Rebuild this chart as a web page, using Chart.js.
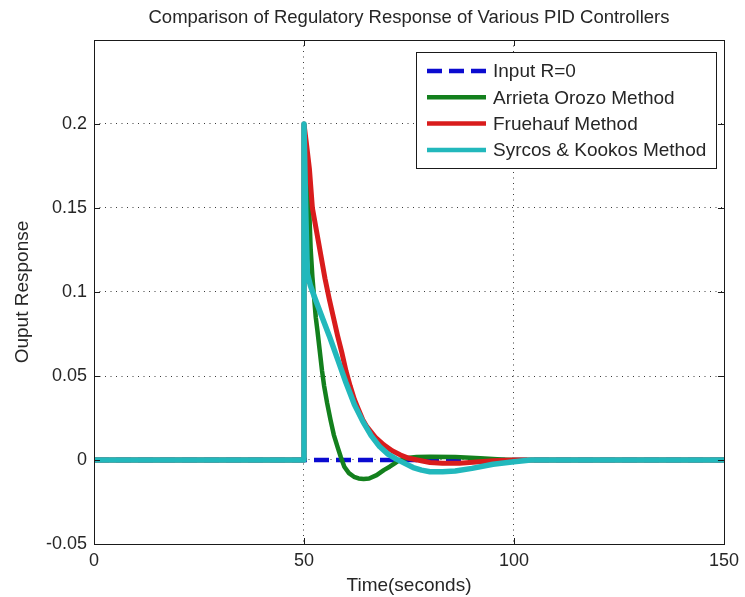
<!DOCTYPE html>
<html>
<head>
<meta charset="utf-8">
<title>Comparison of Regulatory Response of Various PID Controllers</title>
<script src="https://cdn.jsdelivr.net/npm/chart.js@4.4.1/dist/chart.umd.min.js"></script>
<style>
  html, body { margin: 0; padding: 0; background: #fff; }
  #wrap { width: 745px; height: 597px; }
</style>
</head>
<body>
<div id="wrap"><canvas id="pidChart" width="745" height="597"></canvas></div>
<script>
// Series data (time in seconds, output response)
const seriesLabels = ['Input R=0', 'Arrieta Orozo Method', 'Fruehauf Method', 'Syrcos & Kookos Method'];

const inputT = [0, 150];
const inputY = [0, 0];

const arrietaT = [0, 50, 50, 50.5, 51, 51.3, 51.6, 52, 52.8, 53.2, 53.7, 54.3, 54.8, 55.5, 56.3, 57.1, 58, 58.8, 59.6, 60.7, 61.9, 63, 64.2, 65.5, 67.3, 69, 70.4, 71.6, 72.8, 74.5, 76.8, 80, 86, 92, 97, 100, 150];
const arrietaY = [0, 0, 0.2, 0.175, 0.155, 0.145, 0.125, 0.109, 0.085, 0.077, 0.066, 0.053, 0.044, 0.034, 0.024, 0.015, 0.0077, 0.0015, -0.004, -0.0078, -0.010, -0.011, -0.0113, -0.011, -0.009, -0.006, -0.004, -0.002, 0.000, 0.0012, 0.0018, 0.002, 0.0018, 0.001, 0.0003, 0, 0];

const fruehaufT = [0, 50, 50, 50.5, 51.3, 52, 53, 54, 55, 56, 57, 58, 59, 60, 61, 62, 63, 64, 65, 67, 69, 71, 73, 75, 77, 80, 83, 87, 91, 95, 100, 150];
const fruehaufY = [0, 0, 0.2, 0.19, 0.173, 0.150, 0.136, 0.122, 0.108, 0.096, 0.085, 0.074, 0.064, 0.053, 0.044, 0.036, 0.030, 0.024, 0.0197, 0.0135, 0.009, 0.0055, 0.003, 0.001, 0, -0.0015, -0.002, -0.002, -0.0012, -0.0005, 0, 0];

const syrcosT = [0, 50, 50, 50.4, 50.8, 51.5, 52.5, 54, 56, 58, 60, 62, 64, 66, 68, 70, 72, 74, 76, 78, 80, 83, 86, 90, 95, 100, 104, 150];
const syrcosY = [0, 0, 0.2, 0.15, 0.111, 0.104, 0.097, 0.087, 0.074, 0.060, 0.046, 0.033, 0.023, 0.0145, 0.008, 0.0035, 0.0005, -0.002, -0.0045, -0.006, -0.007, -0.007, -0.0065, -0.005, -0.0025, -0.001, 0, 0];

// Axis ticks
const xTicks = [0, 50, 100, 150];
const yTicks = [-0.05, 0, 0.05, 0.1, 0.15, 0.2, 0.25];

const FONT = "'Liberation Sans', Arial, sans-serif";
const TEXT_COLOR = '#262626';

function toPoints(t, y) {
    return t.map((x, i) => ({ x: x, y: y[i] }));
}

/**
 * Draws the axes box and the inward tick marks (MATLAB look)
 */
const boxPlugin = {
    id: 'boxPlugin',
    afterDatasetsDraw(chart) {
        const { ctx, chartArea: a, scales } = chart;
        ctx.save();
        ctx.strokeStyle = '#1a1a1a';
        ctx.lineWidth = 1;
        ctx.setLineDash([]);
        ctx.beginPath();
        xTicks.forEach(v => {
            const px = Math.round(scales.x.getPixelForValue(v)) + 0.5;
            ctx.moveTo(px, a.bottom);
            ctx.lineTo(px, a.bottom - 6);
            ctx.moveTo(px, a.top);
            ctx.lineTo(px, a.top + 6);
        });
        yTicks.forEach(v => {
            const py = Math.round(scales.y.getPixelForValue(v)) + 0.5;
            ctx.moveTo(a.left, py);
            ctx.lineTo(a.left + 6, py);
            ctx.moveTo(a.right, py);
            ctx.lineTo(a.right - 6, py);
        });
        ctx.stroke();
        ctx.strokeRect(Math.round(a.left) + 0.5, Math.round(a.top) + 0.5,
            Math.round(a.right - a.left), Math.round(a.bottom - a.top));
        ctx.restore();
    }
};

/**
 * Legend box drawn inside the plot, top right
 */
const legendBoxPlugin = {
    id: 'legendBox',
    afterDraw(chart) {
        const { ctx, chartArea: a } = chart;
        const datasets = chart.data.datasets;
        ctx.save();
        ctx.font = '19px ' + FONT;
        let textW = 0;
        datasets.forEach(ds => { textW = Math.max(textW, ctx.measureText(ds.label).width); });

        const padL = 11, sampleW = 59, gap = 7, padR = 10;
        const rowH = 26.3;
        const boxW = Math.round(padL + sampleW + gap + textW + padR);
        const boxH = 116;
        const right = Math.round(a.right) - 8;
        const left = right - boxW;
        const top = Math.round(a.top) + 12;

        ctx.fillStyle = '#fff';
        ctx.fillRect(left, top, boxW, boxH);
        ctx.strokeStyle = '#1a1a1a';
        ctx.lineWidth = 1;
        ctx.strokeRect(left + 0.5, top + 0.5, boxW, boxH);

        datasets.forEach((ds, i) => {
            const y = top + 19 + i * rowH;
            ctx.beginPath();
            ctx.strokeStyle = ds.borderColor;
            ctx.lineWidth = 4.5;
            ctx.setLineDash(ds.borderDash || []);
            ctx.moveTo(left + padL, y);
            ctx.lineTo(left + padL + sampleW, y);
            ctx.stroke();
            ctx.setLineDash([]);
            ctx.fillStyle = TEXT_COLOR;
            ctx.textBaseline = 'middle';
            ctx.textAlign = 'left';
            ctx.fillText(ds.label, left + padL + sampleW + gap, y + 1);
        });
        ctx.restore();
    }
};

const edgeGrid = (ctx) => {
    const n = ctx.chart.scales[ctx.scale.id].ticks.length;
    return (ctx.index === 0 || ctx.index === n - 1) ? 'rgba(0,0,0,0)' : '#3a3a3a';
};

const chart = new Chart(document.getElementById('pidChart').getContext('2d'), {
    type: 'line',
    data: {
        datasets: [
            {
                label: seriesLabels[0],
                data: toPoints(inputT, inputY),
                borderColor: '#0b0bd0',
                borderWidth: 4.5,
                borderDash: [15, 7],
                order: 3
            },
            {
                label: seriesLabels[1],
                data: toPoints(arrietaT, arrietaY),
                borderColor: '#13801d',
                borderWidth: 4.5,
                order: 2
            },
            {
                label: seriesLabels[2],
                data: toPoints(fruehaufT, fruehaufY),
                borderColor: '#d91c1c',
                borderWidth: 5,
                order: 1
            },
            {
                label: seriesLabels[3],
                data: toPoints(syrcosT, syrcosY),
                borderColor: '#22b8bc',
                borderWidth: 5.5,
                order: 0
            }
        ]
    },
    options: {
        responsive: false,
        animation: false,
        layout: { padding: { right: 14 } },
        elements: {
            point: { radius: 0, hoverRadius: 0 },
            line: { tension: 0, fill: false, borderJoinStyle: 'round', borderCapStyle: 'butt' }
        },
        plugins: {
            legend: { display: false },
            tooltip: { enabled: false },
            title: {
                display: true,
                fullSize: false,
                text: 'Comparison of Regulatory Response of Various PID Controllers',
                color: TEXT_COLOR,
                font: { family: FONT, size: 18.5, weight: 'normal' },
                padding: { top: 7, bottom: 10.8 }
            }
        },
        scales: {
            x: {
                type: 'linear',
                min: 0,
                max: 150,
                afterBuildTicks: (scale) => { scale.ticks = xTicks.map(v => ({ value: v })); },
                afterFit: (scale) => { scale.height = 53; },
                ticks: {
                    color: TEXT_COLOR,
                    padding: 6,
                    maxRotation: 0,
                    font: { family: FONT, size: 18 },
                    callback: (v) => String(v)
                },
                grid: { color: edgeGrid, lineWidth: 1, drawTicks: false },
                border: { display: false, dash: [1, 4.5] },
                title: {
                    display: true,
                    text: 'Time(seconds)',
                    color: TEXT_COLOR,
                    font: { family: FONT, size: 19 },
                    padding: { top: 0, bottom: 0 }
                }
            },
            y: {
                type: 'linear',
                min: -0.05,
                max: 0.25,
                afterBuildTicks: (scale) => { scale.ticks = yTicks.map(v => ({ value: v })); },
                afterFit: (scale) => { scale.width = 94; },
                ticks: {
                    color: TEXT_COLOR,
                    padding: 7,
                    font: { family: FONT, size: 18 },
                    callback: (v) => {
                        const r = Math.round(v * 100) / 100;
                        return r === 0.25 ? '' : String(r);
                    }
                },
                grid: { color: edgeGrid, lineWidth: 1, drawTicks: false },
                border: { display: false, dash: [1, 4.5] },
                title: {
                    display: true,
                    text: 'Ouput Response',
                    color: TEXT_COLOR,
                    font: { family: FONT, size: 19 },
                    padding: { top: 11, bottom: 0 }
                }
            }
        }
    },
    plugins: [boxPlugin, legendBoxPlugin]
});
</script>
</body>
</html>
